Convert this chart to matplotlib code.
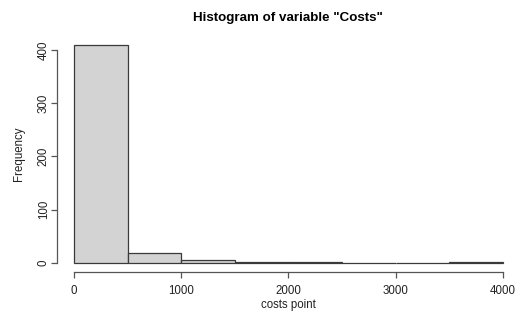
import numpy as np
import matplotlib
matplotlib.use("Agg")
import matplotlib.pyplot as plt

plt.rcParams["font.family"] = ["Liberation Sans", "DejaVu Sans"]

# bin edges and counts of the cost histogram
bin_edges = [0, 500, 1000, 1500, 2000, 2500, 3000, 3500, 4000]
counts = [409, 18, 5, 1, 1, 0, 0, 1]
x_ticks = [0, 1000, 2000, 3000, 4000]
y_ticks = [0, 100, 200, 300, 400]

W, H = 515, 325
fig = plt.figure(figsize=(W / 100, H / 100), dpi=100)

# plot region in pixels (R style: 4% padding around the data range)
left, right, top, bottom = 56.8, 519.9, 36.7, 271.5
ax = fig.add_axes([left / W, 1 - bottom / H, (right - left) / W, (bottom - top) / H])

edges = np.array(bin_edges)
ax.bar(edges[:-1], counts, width=np.diff(edges), align="edge",
       color="#d3d3d3", edgecolor="#3a3a3a", linewidth=0.9)

xmax, ymax = edges[-1], max(counts)
ax.set_xlim(-0.04 * xmax, xmax * 1.04)
ax.set_ylim(-0.04 * ymax, ymax * 1.04)

for side in ["top", "right"]:
    ax.spines[side].set_visible(False)
ax.spines["left"].set_bounds(y_ticks[0], y_ticks[-1])
ax.spines["bottom"].set_bounds(x_ticks[0], x_ticks[-1])
for side in ["left", "bottom"]:
    ax.spines[side].set_color("#555555")
    ax.spines[side].set_linewidth(0.9)

ax.set_xticks(x_ticks)
ax.set_yticks(y_ticks)
ax.set_yticklabels([str(v) for v in y_ticks], rotation=90, va="center")
ax.tick_params(length=4, width=0.9, color="#555555", labelsize=8.3,
               labelcolor="#222222")
ax.tick_params(axis="x", pad=6)
ax.tick_params(axis="y", pad=1)

ax.set_xlabel("costs point", fontsize=8.3, color="#222222", labelpad=1.5)
ax.set_ylabel("Frequency", fontsize=8.3, color="#222222", labelpad=9)
ax.set_title('Histogram of variable "Costs"', fontsize=9.6,
             fontweight="bold", pad=11)

fig.savefig("out.png", dpi=100)
